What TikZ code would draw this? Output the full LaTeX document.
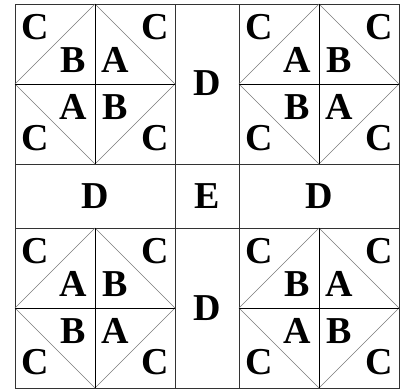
\documentclass[tikz,border=0pt]{standalone}
\usepackage{fontspec}
\setmainfont{Liberation Serif}
\usetikzlibrary{positioning}
\definecolor{rule}{HTML}{333333}
\definecolor{diag}{HTML}{7A7A7A}
\tikzset{lab/.style={font=\fontsize{38}{41}\selectfont\bfseries,inner sep=0pt}}

\begin{document}
\begin{tikzpicture}[x=1pt,y=-1pt]
\useasboundingbox (0,0) rectangle (406,389);
% frame and middle bands
\draw[rule] (15,4) rectangle (399,388);
\draw[rule] (175,4)--(175,388) (239,4)--(239,388);
\draw[rule] (15,164)--(399,164) (15,228)--(399,228);
% the four corner blocks
\foreach \cx/\cy/\p/\q/\nm in {95/84/B/A/nw,319/84/A/B/ne,95/308/A/B/sw,319/308/B/A/se} {
 \draw[diag] (\cx,\cy-80)--(\cx+80,\cy)--(\cx,\cy+80)--(\cx-80,\cy)--cycle;
 \draw[black] (\cx,\cy-80)--(\cx,\cy+80) (\cx-80,\cy)--(\cx+80,\cy);
 \node[lab] (\nm-c1) at (\cx-60,\cy-57) {C};
 \node[lab] (\nm-c2) at (\cx+60,\cy-57) {C};
 \node[lab] (\nm-c3) at (\cx-60,\cy+54) {C};
 \node[lab] (\nm-c4) at (\cx+60,\cy+54) {C};
 \node[lab] (\nm-i1) at (\cx-22,\cy-24) {\p};
 \node[lab] (\nm-i2) at (\cx+20,\cy-24) {\q};
 \node[lab] (\nm-i3) at (\cx-22,\cy+23) {\q};
 \node[lab] (\nm-i4) at (\cx+20,\cy+23) {\p};
}
% bands
\node[lab] (d-top) at (207,83) {D};
\node[lab] (d-left) at (95,196) {D};
\node[lab] (e-mid) at (207,196) {E};
\node[lab] (d-right) at (319,196) {D};
\node[lab] (d-bot) at (207,308) {D};
\end{tikzpicture}
\end{document}
